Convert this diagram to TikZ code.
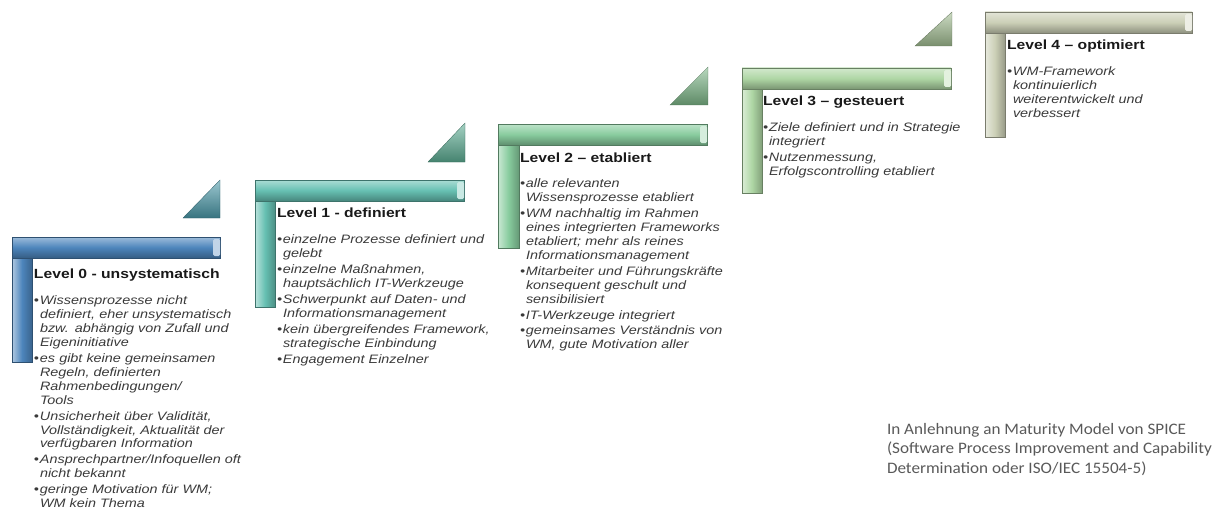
\documentclass[tikz,border=0pt]{standalone}
\usepackage{fontspec}
\setmainfont{Liberation Sans}
\newfontfamily\levelfont[FakeStretch=1.18]{Liberation Sans}
\newfontfamily\notefont[FakeStretch=1.07]{Carlito}
\usetikzlibrary{positioning}
\definecolor{lvlzero}{HTML}{4D85BC}
\definecolor{lvlone}{HTML}{66C0B2}
\definecolor{lvltwo}{HTML}{88CC9E}
\definecolor{lvlthree}{HTML}{AED6A4}
\definecolor{lvlfour}{HTML}{CBCFB6}
\definecolor{trizero}{HTML}{4A9AAA}
\definecolor{trione}{HTML}{5CAE94}
\definecolor{tritwo}{HTML}{7DB888}
\definecolor{trithree}{HTML}{A2BE92}
\definecolor{bultext}{HTML}{3A3A3A}
\definecolor{notegray}{HTML}{595959}
\newcommand{\bul}{\par\hangindent=6pt\hangafter=1\noindent\makebox[6pt][l]{\textbullet}}
\begin{document}
\begin{tikzpicture}[x=1pt,y=-1pt,inner sep=0pt,outer sep=0pt,
hbar/.style={top color=#1!55!white,bottom color=#1!70!black,middle color=#1,draw=#1!60!black,line width=0.3pt},
vbar/.style={left color=#1!45!white,right color=#1!75!black,middle color=#1,draw=#1!60!black,line width=0.3pt},
barcap/.style={fill=#1!35!white,rounded corners=1.5pt},
tri/.style={top color=#1!55!white,bottom color=#1!75!black,draw=#1!60!black,line width=0.3pt},
title/.style={anchor=west,font=\levelfont\fontsize{13.3}{15}\selectfont\bfseries,text=black!90},
bullets/.style={anchor=north west,text width=240pt,align=left,text=bultext,
  font=\levelfont\fontsize{12.2}{13.9}\selectfont\itshape\setlength{\parskip}{2pt}},
note/.style={anchor=north west,align=left,text=notegray,font=\notefont\fontsize{16}{19.5}\selectfont}]
\useasboundingbox (0,0) rectangle (1219,519);
% Level 0
\shade[vbar=lvlzero] (12,237) rectangle (32,362);
\shade[hbar=lvlzero] (12,237) rectangle (220,258);
\fill[barcap=lvlzero] (213,239) rectangle (220,256);
\shade[tri=trizero] (183,218) -- (220,218) -- (220,180) -- cycle;
\draw (34,275) node[title] (t0) {Level 0 - unsystematisch};
\draw (34,289) node[bullets] (b0) {\bul Wissensprozesse nicht\newline definiert, eher unsystematisch\newline bzw. abhängig von Zufall und\newline Eigeninitiative
\bul es gibt keine gemeinsamen\newline Regeln, definierten\newline Rahmenbedingungen/\newline Tools
\bul Unsicherheit über Validität,\newline Vollständigkeit, Aktualität der\newline verfügbaren Information
\bul Ansprechpartner/Infoquellen oft\newline nicht bekannt
\bul geringe Motivation für WM;\newline WM kein Thema\par};
% Level 1
\shade[vbar=lvlone] (255,180) rectangle (275,307);
\shade[hbar=lvlone] (255,180) rectangle (464,201);
\fill[barcap=lvlone] (457,182) rectangle (464,199);
\shade[tri=trione] (428,162) -- (465,162) -- (465,123) -- cycle;
\draw (277,213) node[title] (t1) {Level 1 - definiert};
\draw (277,228) node[bullets] (b1) {\bul einzelne Prozesse definiert und\newline gelebt
\bul einzelne Maßnahmen,\newline hauptsächlich IT-Werkzeuge
\bul Schwerpunkt auf Daten- und\newline Informationsmanagement
\bul kein übergreifendes Framework,\newline strategische Einbindung
\bul Engagement Einzelner\par};
% Level 2
\shade[vbar=lvltwo] (498,124) rectangle (519,248);
\shade[hbar=lvltwo] (498,124) rectangle (707,145);
\fill[barcap=lvltwo] (700,126) rectangle (707,143);
\shade[tri=tritwo] (670,105) -- (708,105) -- (708,67) -- cycle;
\draw (520,158) node[title] (t2) {Level 2 – etabliert};
\draw (520,172) node[bullets] (b2) {\bul alle relevanten\newline Wissensprozesse etabliert
\bul WM nachhaltig im Rahmen\newline eines integrierten Frameworks\newline etabliert; mehr als reines\newline Informationsmanagement
\bul Mitarbeiter und Führungskräfte\newline konsequent geschult und\newline sensibilisiert
\bul IT-Werkzeuge integriert
\bul gemeinsames Verständnis von\newline WM, gute Motivation aller\par};
% Level 3
\shade[vbar=lvlthree] (742,68) rectangle (762,193);
\shade[hbar=lvlthree] (742,68) rectangle (951,89);
\fill[barcap=lvlthree] (944,70) rectangle (951,87);
\shade[tri=trithree] (915,46) -- (952,46) -- (952,12) -- cycle;
\draw (763,102) node[title] (t3) {Level 3 – gesteuert};
\draw (763,116) node[bullets] (b3) {\bul Ziele definiert und in Strategie\newline integriert
\bul Nutzenmessung,\newline Erfolgscontrolling etabliert\par};
% Level 4
\shade[vbar=lvlfour] (985,12) rectangle (1005,137);
\shade[hbar=lvlfour] (985,12) rectangle (1192,33);
\fill[barcap=lvlfour] (1185,14) rectangle (1192,31);
\draw (1007,46) node[title] (t4) {Level 4 – optimiert};
\draw (1007,60) node[bullets] (b4) {\bul WM-Framework\newline kontinuierlich\newline weiterentwickelt und\newline verbessert\par};
% Quelle
\draw (887,423) node[note] (src) {In Anlehnung an Maturity Model von SPICE\\ (Software Process Improvement and Capability\\ Determination oder ISO/IEC 15504-5)};
\end{tikzpicture}
\end{document}
